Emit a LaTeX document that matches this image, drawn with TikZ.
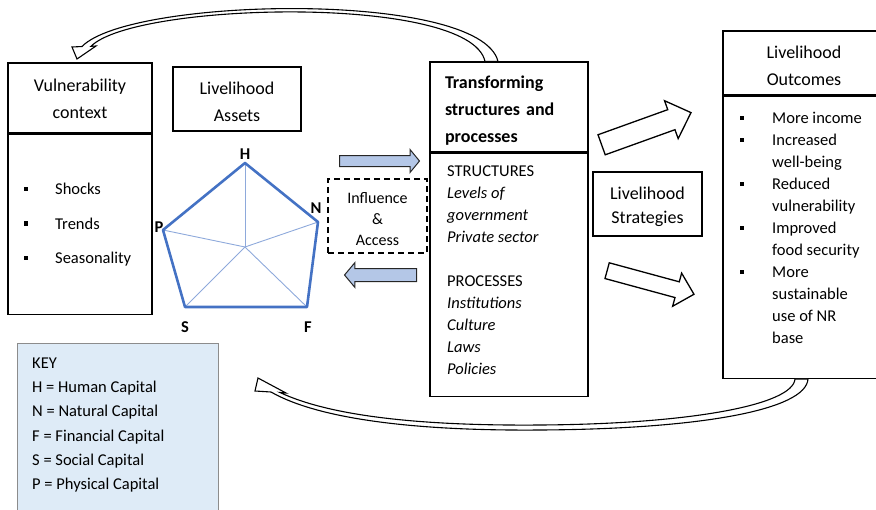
\documentclass[tikz,border=0pt]{standalone}
\usepackage{fontspec}
\setmainfont{Carlito}
\usetikzlibrary{shapes.arrows}
\definecolor{penblue}{HTML}{4472C4}
\definecolor{spokeblue}{HTML}{8EA9DB}
\definecolor{arrowfill}{HTML}{B4C7E7}
\definecolor{keyfill}{HTML}{DEEBF7}
\definecolor{keyline}{HTML}{8C8C8C}
\newcommand{\headfont}{\fontsize{18}{27}\selectfont}
\newcommand{\bodyfont}{\fontsize{16.5}{22}\selectfont}
\tikzset{
  box/.style={draw, line width=1.3pt, inner sep=0pt},
  boxlbl/.style={inner sep=0pt, align=center, font=\headfont},
  divider/.style={line width=2.6pt},
  infbox/.style={draw, line width=1.3pt, dash pattern=on 6pt off 4pt, inner sep=0pt},
  keybox/.style={draw=keyline, line width=1pt, fill=keyfill, inner sep=0pt},
  txt/.style={anchor=base west, inner sep=0pt, font=\bodyfont},
  bullet/.style={fill, minimum size=4.5pt, inner sep=0pt},
  caplbl/.style={inner sep=0pt, font=\fontsize{16.5}{20}\selectfont\bfseries},
  spoke/.style={draw=spokeblue, line width=0.9pt},
  pentagon/.style={draw=penblue, line width=2.6pt, line join=round},
  bluearrow/.style={single arrow, draw=black!85, line width=1pt, fill=arrowfill,
                    inner xsep=0pt, single arrow head indent=0pt},
  blockarrow/.style={single arrow, draw, line width=1.3pt, fill=white,
                     inner xsep=0pt, single arrow head indent=0pt},
  curvearrow/.style={draw, line width=1.1pt, fill=white, line join=miter},
}

\begin{document}
\begin{tikzpicture}[x=1pt, y=-1pt]
  \useasboundingbox (0,0) rectangle (876,509);

  % vulnerability context
  \node[box, minimum width=144, minimum height=70] (vulnhead) at (80,98) {};
  \node[boxlbl] (vulnlbl) at ([yshift=-1pt]vulnhead.center) {Vulnerability\\context};
  \node[box, minimum width=144, minimum height=180, anchor=north] (vulnbody) at (vulnhead.south) {};
  \draw[divider] (vulnhead.south west) -- (vulnhead.south east);
  \foreach \i/\lbl in {0/Shocks,1/Trends,2/Seasonality}{
    \node[bullet] (vbul\i) at (26,{189+34.5*\i}) {};
    \node[txt] (vtxt\i) at (55,{194.5+34.5*\i}) {\lbl};}

  % assets and pentagon
  \node[box, minimum width=128, minimum height=64] (assets) at (237,99) {};
  \node[boxlbl] (assetslbl) at ([yshift=-3pt]assets.center) {Livelihood\\Assets};
  \coordinate (pc) at (245,247);
  \coordinate (vH) at (245,163);
  \coordinate (vN) at (318,222);
  \coordinate (vF) at (307,307);
  \coordinate (vS) at (185,307);
  \coordinate (vP) at (163,230);
  \foreach \v in {H,N,F,S,P}
    \draw[spoke] (pc) -- (v\v);
  \draw[pentagon] (vH) -- (vN) -- (vF) -- (vS) -- (vP) -- cycle;
  \node[caplbl] (lH) at (245,154) {H};
  \node[caplbl] (lN) at (316,208) {N};
  \node[caplbl] (lF) at (308,327) {F};
  \node[caplbl] (lS) at (185,327) {S};
  \node[caplbl] (lP) at (159,227) {P};

  % influence and access
  \node[infbox, minimum width=99, minimum height=74] (infl) at (377.5,216) {};
  \node[boxlbl, font=\fontsize{16}{21}\selectfont] (infllbl) at ([yshift=-3pt]infl.center)
        {Influence\\\&\\Access};
  \node[bluearrow, minimum height=80, inner ysep=5pt, single arrow head extend=6pt,
        single arrow tip angle=101, anchor=tail] (toright) at (339,161) {};
  \node[bluearrow, minimum height=72, inner ysep=6pt, single arrow head extend=6pt,
        single arrow tip angle=100, anchor=tail, rotate=180] (toleft) at (417,275) {};

  % transforming structures and processes
  \node[box, minimum width=158, minimum height=90] (transhead) at (509,107) {};
  \node[boxlbl, text width=128, align=left, font=\headfont\bfseries] (translbl)
        at ([yshift=-4pt]transhead.center) {Transforming\\structures and\\processes};
  \node[box, minimum width=158, minimum height=243, anchor=north] (transbody) at (transhead.south) {};
  \draw[divider] (transhead.south west) -- (transhead.south east);
  \foreach \i/\lbl in {0/STRUCTURES,1/{\itshape Levels of},2/{\itshape government},
                       3/{\itshape Private sector},5/PROCESSES,6/{\itshape Institutions},
                       7/{\itshape Culture},8/{\itshape Laws},9/{\itshape Policies}}
    \node[txt] (ttxt\i) at (447,{176.5+22*\i}) {\lbl};

  % strategies
  \node[box, minimum width=109, minimum height=64] (strat) at (647.5,204) {};
  \node[boxlbl, font=\fontsize{18}{24}\selectfont] (stratlbl) at ([yshift=-3pt]strat.center)
        {Livelihood\\Strategies};
  \node[blockarrow, minimum height=95, inner ysep=10pt, single arrow head extend=9.5pt,
        single arrow tip angle=88, anchor=tail, rotate=19.8] (uparrow) at (601,145) {};
  \node[blockarrow, minimum height=90, inner ysep=7.5pt, single arrow head extend=9pt,
        single arrow tip angle=89, anchor=tail, rotate=-15.2] (downarrow) at (606.5,270.5) {};

  % outcomes
  \node[box, minimum width=162, minimum height=64] (outhead) at (804,63) {};
  \node[boxlbl] (outlbl) at ([yshift=-3pt]outhead.center) {Livelihood\\Outcomes};
  \node[box, minimum width=162, minimum height=282, anchor=north] (outbody) at (outhead.south) {};
  \draw[divider] (outhead.south west) -- (outhead.south east);
  \foreach \i in {0,1,3,5,7}
    \node[bullet] (obul\i) at (742,{118+22*\i}) {};
  \foreach \i/\lbl in {0/More income,1/Increased,2/well-being,3/Reduced,4/vulnerability,
                       5/Improved,6/food security,7/More,8/sustainable,9/use of NR,10/base}
    \node[txt] (otxt\i) at (772,{123.5+22*\i}) {\lbl};

  % feedback arrows
  \draw[curvearrow] ([xshift=-11pt]transhead.north) .. controls (480,-10) and (130,-3) .. (82,46.5)
    -- (72,47) -- (77,59) -- (96,46) -- (91,46.3)
    .. controls (135,2) and (470,-6) .. ([xshift=-24pt]transhead.north) -- cycle;
  \draw[curvearrow] ([xshift=4pt]outbody.south) .. controls (806,410) and (700,429) .. (540,430)
    .. controls (420,431) and (320,420) .. (271,392)
    -- (255,391) -- (258,378) -- (286,393) -- (280,392.5)
    .. controls (330,416) and (420,426) .. (540,425)
    .. controls (690,424) and (793,405) .. ([xshift=-9pt]outbody.south) -- cycle;

  % key
  \node[keybox, minimum width=201, minimum height=172, anchor=north west] (key) at (17,343) {};
  \foreach \i/\lbl in {0/KEY,1/H = Human Capital,2/N = Natural Capital,3/F = Financial Capital,
                       4/S = Social Capital,5/P = Physical Capital}
    \node[txt] (ktxt\i) at (32,{368.5+24.2*\i}) {\lbl};
\end{tikzpicture}
\end{document}
